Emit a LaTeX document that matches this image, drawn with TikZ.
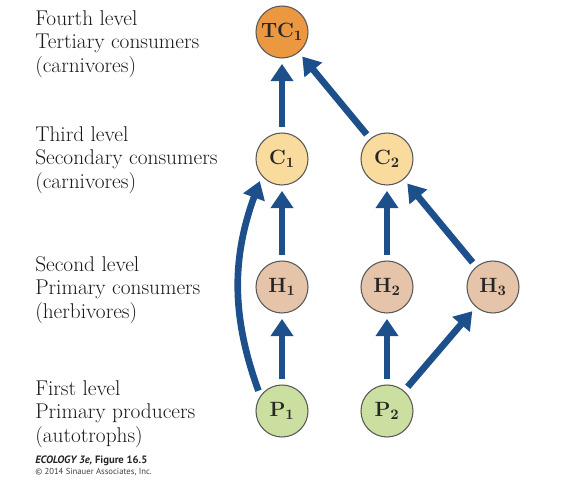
\documentclass[tikz,border=0pt]{standalone}
\usepackage{fontspec}
\newfontfamily\creditfont{PT Sans}
\usetikzlibrary{arrows.meta}

\begin{document}
\begin{tikzpicture}[x=0.75pt,y=0.75pt,
   troph/.style={circle,draw=black!65,line width=0.8pt,minimum size=39pt,inner sep=0pt,text=black!85,
      font=\fontsize{15.5}{17}\selectfont\bfseries},
   feed/.style={draw=feedblue,line width=5pt,-{Triangle[length=13pt,width=16.5pt]},
      shorten <=4pt,shorten >=4pt},
   level/.style={anchor=west,align=left,inner sep=0pt,text=black!90,
      font=\fontsize{16}{17.5}\selectfont}]
   \definecolor{feedblue}{RGB}{29,79,138}
   \definecolor{tcorange}{RGB}{236,152,64}
   \definecolor{cyellow}{RGB}{250,219,158}
   \definecolor{htan}{RGB}{229,196,170}
   \definecolor{pgreen}{RGB}{202,223,160}
   \useasboundingbox (0,0) rectangle (569,492);
   % trophic levels
   \node[level] (fourth) at (35,448) {Fourth level\\Tertiary consumers\\(carnivores)};
   \node[level] (third) at (35,332) {Third level\\Secondary consumers\\(carnivores)};
   \node[level] (second) at (35,202) {Second level\\Primary consumers\\(herbivores)};
   \node[level] (first) at (35,78) {First level\\Primary producers\\(autotrophs)};
   % organisms
   \node[troph,fill=tcorange] (TC1) at (282,460) {TC\textsubscript{1}};
   \node[troph,fill=cyellow] (C1) at (282,333) {C\textsubscript{1}};
   \node[troph,fill=cyellow] (C2) at (387,333) {C\textsubscript{2}};
   \node[troph,fill=htan] (H1) at (282,205) {H\textsubscript{1}};
   \node[troph,fill=htan] (H2) at (387,205) {H\textsubscript{2}};
   \node[troph,fill=htan] (H3) at (493,205) {H\textsubscript{3}};
   \node[troph,fill=pgreen] (P1) at (282,81) {P\textsubscript{1}};
   \node[troph,fill=pgreen] (P2) at (387,81) {P\textsubscript{2}};
   % who eats whom
   \draw[feed] (P1) -- (H1);
   \draw[feed] (H1) -- (C1);
   \draw[feed] (C1) -- (TC1);
   \draw[feed] (C2) -- (TC1);
   \draw[feed] (P2) -- (H2);
   \draw[feed] (H2) -- (C2);
   \draw[feed] (H3) -- (C2);
   \draw[feed] (P2) -- (H3);
   \draw[feed] (P1.145) to[out=110,in=250] (C1.220);
   % credit
   \node[anchor=base west,inner sep=0pt,text=black!85,font=\creditfont\fontsize{8}{9}\selectfont\bfseries] (fig) at (35,28)
      {\itshape ECOLOGY 3e,\upshape{} Figure 16.5};
   \node[anchor=base west,inner sep=0pt,text=black!75,font=\creditfont\fontsize{6.5}{7}\selectfont] (copy) at (35,17)
      {\textcopyright{} 2014 Sinauer Associates, Inc.};
\end{tikzpicture}
\end{document}
